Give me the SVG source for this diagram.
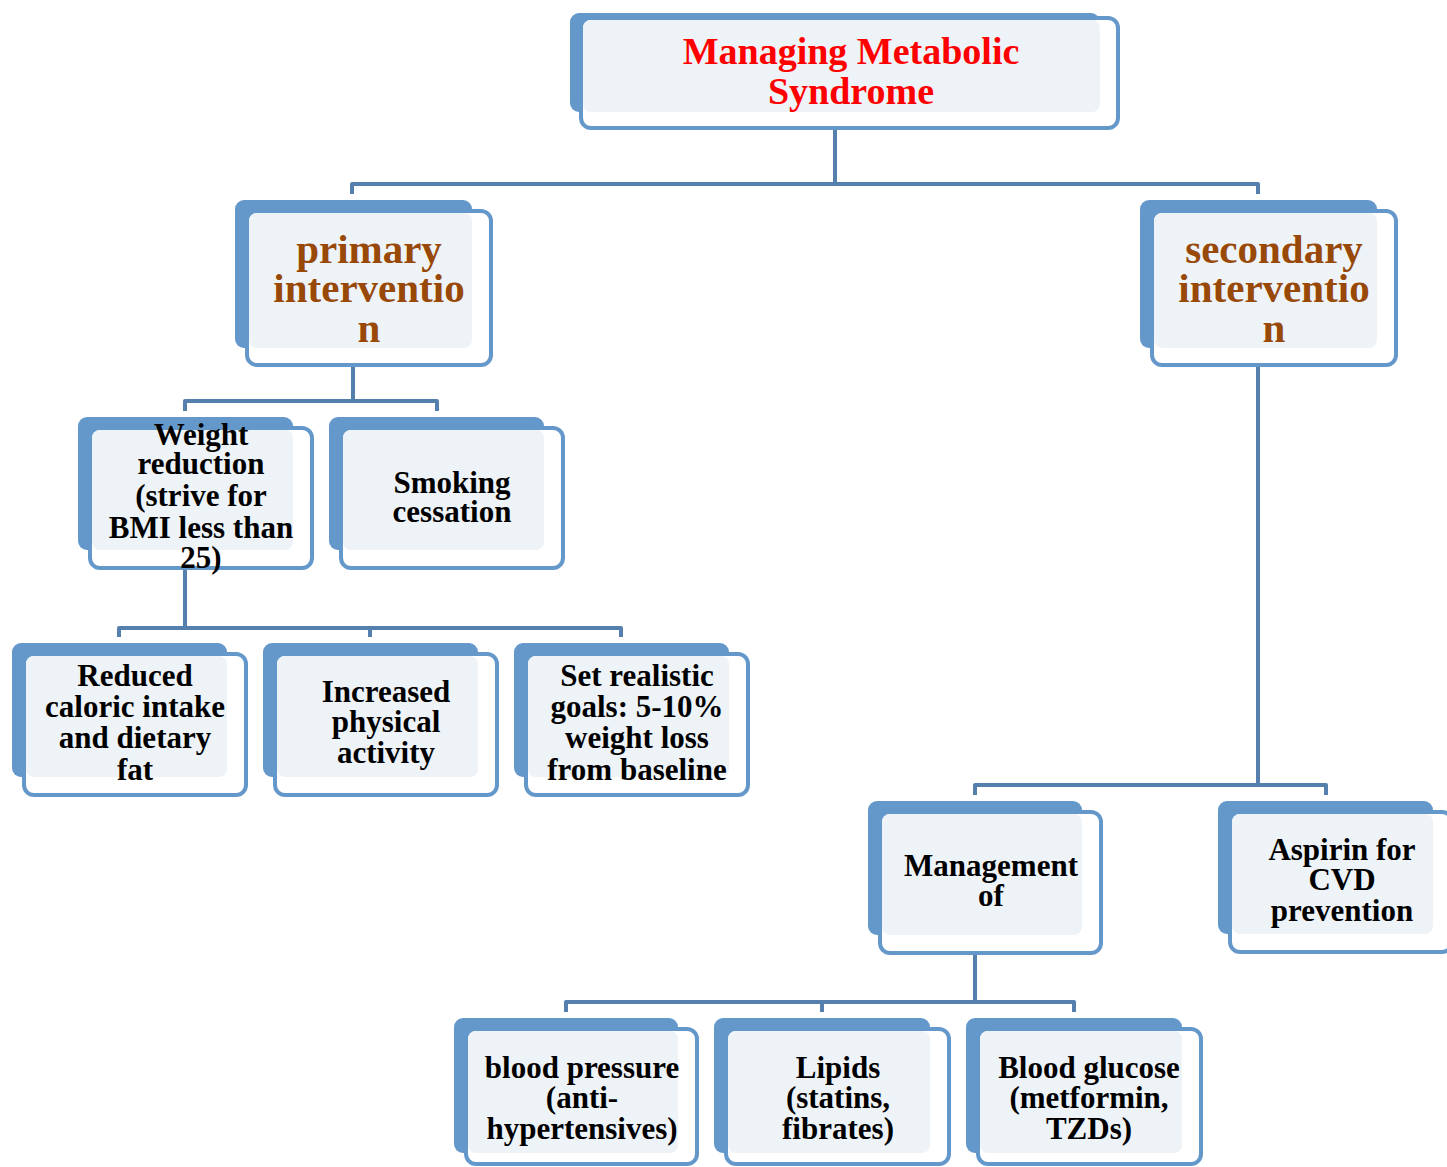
<svg xmlns="http://www.w3.org/2000/svg" width="1447" height="1167" viewBox="0 0 1447 1167">
<style>
.back{fill:#6598ca}
.front{fill:#ffffff;stroke:#6598ca;stroke-width:4}
.light{fill:#eef3f8}
.conn{fill:none;stroke:#5580ad;stroke-width:4;stroke-linejoin:round}
text{font-family:"Liberation Serif","Times New Roman",serif;font-weight:bold;text-anchor:middle}
.t{font-size:31px;fill:#000000}
.title{font-size:38px;fill:#ff0000}
.br{font-size:41px;fill:#984807}
</style>
<rect width="1447" height="1167" fill="#ffffff"/>
<g id="connectors">
<path class="conn" d="M835,112 V184 M352,194 V184 H1258 V194"/>
<path class="conn" d="M353,348 V401 M185,411 V401 H437 V411"/>
<path class="conn" d="M185,550 V628 M119,637 V628 H621 V637 M370,628 V637"/>
<path class="conn" d="M1258,348 V785 M975,795 V785 H1326 V795"/>
<path class="conn" d="M975,935 V1002 M566,1012 V1002 H1074 V1012 M822,1002 V1012"/>
</g>
<g id="root">
<rect class="back" x="570" y="13" width="530" height="99" rx="9"/>
<rect class="front" x="581" y="18" width="537" height="110" rx="10"/>
<rect class="light" x="583" y="20" width="517" height="92" rx="8"/>
<text class="title" x="851" y="64">Managing Metabolic</text>
<text class="title" x="851" y="104">Syndrome</text>
</g>
<g id="primary">
<rect class="back" x="235" y="200" width="237" height="148" rx="9"/>
<rect class="front" x="247" y="211" width="244" height="154" rx="10"/>
<rect class="light" x="249" y="213" width="223" height="135" rx="8"/>
<text class="br" x="369" y="263">primary</text>
<text class="br" x="369" y="302">interventio</text>
<text class="br" x="369" y="342">n</text>
</g>
<g id="secondary">
<rect class="back" x="1140" y="200" width="237" height="148" rx="9"/>
<rect class="front" x="1152" y="211" width="244" height="154" rx="10"/>
<rect class="light" x="1154" y="213" width="223" height="135" rx="8"/>
<text class="br" x="1274" y="263">secondary</text>
<text class="br" x="1274" y="302">interventio</text>
<text class="br" x="1274" y="342">n</text>
</g>
<g id="weight">
<rect class="back" x="78" y="417" width="215" height="133" rx="9"/>
<rect class="front" x="90" y="428" width="222" height="140" rx="10"/>
<rect class="light" x="92" y="430" width="201" height="120" rx="8"/>
<text class="t" x="201" y="445">Weight</text>
<text class="t" x="201" y="474">reduction</text>
<text class="t" x="201" y="506">(strive for</text>
<text class="t" x="201" y="538">BMI less than</text>
<text class="t" x="201" y="568">25)</text>
</g>
<g id="smoking">
<rect class="back" x="329" y="417" width="215" height="133" rx="9"/>
<rect class="front" x="341" y="428" width="222" height="140" rx="10"/>
<rect class="light" x="343" y="430" width="201" height="120" rx="8"/>
<text class="t" x="452" y="493">Smoking</text>
<text class="t" x="452" y="522">cessation</text>
</g>
<g id="reduced">
<rect class="back" x="12" y="643" width="215" height="134" rx="9"/>
<rect class="front" x="24" y="654" width="222" height="141" rx="10"/>
<rect class="light" x="26" y="656" width="201" height="121" rx="8"/>
<text class="t" x="135" y="686">Reduced</text>
<text class="t" x="135" y="717">caloric intake</text>
<text class="t" x="135" y="748">and dietary</text>
<text class="t" x="135" y="780">fat</text>
</g>
<g id="increased">
<rect class="back" x="263" y="643" width="215" height="134" rx="9"/>
<rect class="front" x="275" y="654" width="222" height="141" rx="10"/>
<rect class="light" x="277" y="656" width="201" height="121" rx="8"/>
<text class="t" x="386" y="702">Increased</text>
<text class="t" x="386" y="732">physical</text>
<text class="t" x="386" y="763">activity</text>
</g>
<g id="goals">
<rect class="back" x="514" y="643" width="215" height="134" rx="9"/>
<rect class="front" x="526" y="654" width="222" height="141" rx="10"/>
<rect class="light" x="528" y="656" width="201" height="121" rx="8"/>
<text class="t" x="637" y="686">Set realistic</text>
<text class="t" x="637" y="717">goals: 5-10%</text>
<text class="t" x="637" y="748">weight loss</text>
<text class="t" x="637" y="780">from baseline</text>
</g>
<g id="management">
<rect class="back" x="868" y="801" width="214" height="134" rx="9"/>
<rect class="front" x="880" y="812" width="221" height="141" rx="10"/>
<rect class="light" x="882" y="814" width="200" height="121" rx="8"/>
<text class="t" x="991" y="876">Management</text>
<text class="t" x="991" y="906">of</text>
</g>
<g id="aspirin">
<rect class="back" x="1218" y="801" width="215" height="133" rx="9"/>
<rect class="front" x="1230" y="812" width="222" height="140" rx="10"/>
<rect class="light" x="1232" y="814" width="201" height="120" rx="8"/>
<text class="t" x="1342" y="860">Aspirin for</text>
<text class="t" x="1342" y="890">CVD</text>
<text class="t" x="1342" y="921">prevention</text>
</g>
<g id="bp">
<rect class="back" x="454" y="1018" width="224" height="135" rx="9"/>
<rect class="front" x="466" y="1029" width="231" height="135" rx="10"/>
<rect class="light" x="468" y="1031" width="210" height="122" rx="8"/>
<text class="t" x="582" y="1078">blood pressure</text>
<text class="t" x="582" y="1108">(anti-</text>
<text class="t" x="582" y="1139">hypertensives)</text>
</g>
<g id="lipids">
<rect class="back" x="714" y="1018" width="216" height="135" rx="9"/>
<rect class="front" x="726" y="1029" width="223" height="135" rx="10"/>
<rect class="light" x="728" y="1031" width="202" height="122" rx="8"/>
<text class="t" x="838" y="1078">Lipids</text>
<text class="t" x="838" y="1108">(statins,</text>
<text class="t" x="838" y="1139">fibrates)</text>
</g>
<g id="glucose">
<rect class="back" x="966" y="1018" width="216" height="135" rx="9"/>
<rect class="front" x="978" y="1029" width="223" height="135" rx="10"/>
<rect class="light" x="980" y="1031" width="202" height="122" rx="8"/>
<text class="t" x="1089" y="1078">Blood glucose</text>
<text class="t" x="1089" y="1108">(metformin,</text>
<text class="t" x="1089" y="1139">TZDs)</text>
</g>
</svg>
